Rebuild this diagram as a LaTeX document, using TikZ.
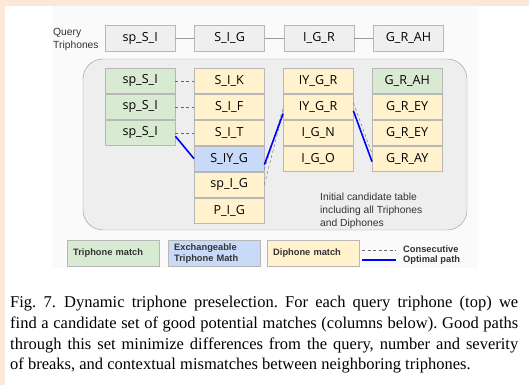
\documentclass[tikz,border=0pt]{standalone}
\usepackage{fontspec}
\setmainfont{Liberation Serif}
\newfontfamily\cellfont{Open Sans}
\newfontfamily\labelfont{Liberation Sans}
\usetikzlibrary{positioning}
\definecolor{peach}{HTML}{FBE8D9}
\definecolor{figgray}{HTML}{FAFAFA}
\definecolor{tablegray}{HTML}{EEEEEE}
\definecolor{querygray}{HTML}{EFEFEF}
\definecolor{cellline}{HTML}{B7B7B7}
\definecolor{trigreen}{HTML}{D9EAD3}
\definecolor{diyellow}{HTML}{FFF2CC}
\definecolor{exblue}{HTML}{C9DAF8}
\definecolor{pathblue}{HTML}{0000FF}
\tikzset{cell/.style={rectangle,draw=cellline,fill=diyellow,minimum width=70pt,minimum height=25.5pt,inner sep=0pt,font=\cellfont\fontsize{12.5}{14}\selectfont},
         tri cell/.style={cell,fill=trigreen},
         ex cell/.style={cell,fill=exblue},
         query/.style={cell,fill=querygray,minimum height=26pt},
         key box/.style={rectangle,draw=cellline,minimum width=92pt,minimum height=26pt,inner xsep=6pt,inner ysep=0pt,text width=80pt,align=left,font=\labelfont\bfseries\fontsize{9.3}{11}\selectfont,text=black!80},
         key text/.style={inner sep=0pt,font=\labelfont\bfseries\fontsize{9.3}{11}\selectfont,text=black!80},
         note/.style={inner sep=0pt,align=left,font=\labelfont\fontsize{10.3}{13}\selectfont,text=black!80},
         link/.style={draw=black!40,thin},
         consec/.style={draw=black!60,thin,dash pattern=on 3pt off 2.5pt},
         best path/.style={draw=pathblue,line width=1.6pt},
}
\begin{document}
\begin{tikzpicture}[x=1pt,y=-1pt,node distance=19pt]
\useasboundingbox (0,0) rectangle (529,385);
\fill[peach] (0,0) rectangle (529,385);
\fill[white] (5,6) rectangle (529,385);
\fill[figgray] (52,6) rectangle (478,268);

% query triphones
\node[note,anchor=north west] (qlabel) at (53,28) {Query\\Triphones};
\node[query,anchor=north west] (q1) at (105,25) {sp\_S\_I};
\node[query,right=of q1] (q2) {S\_I\_G};
\node[query,right=of q2] (q3) {I\_G\_R};
\node[query,right=of q3] (q4) {G\_R\_AH};
\draw[link] (q1) -- (q2);
\draw[link] (q2) -- (q3);
\draw[link] (q3) -- (q4);

% candidate table
\draw[draw=black!40,fill=tablegray,rounded corners=20pt] (83,59) rectangle (467,230);
\node[tri cell,anchor=north west] (a1) at (105,68) {sp\_S\_I};
\node[tri cell,below=0pt of a1] (a2) {sp\_S\_I};
\node[tri cell,below=0pt of a2] (a3) {sp\_S\_I};

\node[cell,anchor=north west] (b1) at (194,68) {S\_I\_K};
\node[cell,below=0pt of b1] (b2) {S\_I\_F};
\node[cell,below=0pt of b2] (b3) {S\_I\_T};
\node[ex cell,below=0pt of b3] (b4) {S\_IY\_G};
\node[cell,below=0pt of b4] (b5) {sp\_I\_G};
\node[cell,below=0pt of b5] (b6) {P\_I\_G};

\node[cell,anchor=north west] (c1) at (283,68) {IY\_G\_R};
\node[cell,below=0pt of c1] (c2) {IY\_G\_R};
\node[cell,below=0pt of c2] (c3) {I\_G\_N};
\node[cell,below=0pt of c3] (c4) {I\_G\_O};

\node[tri cell,anchor=north west] (d1) at (372,68) {G\_R\_AH};
\node[cell,below=0pt of d1] (d2) {G\_R\_EY};
\node[cell,below=0pt of d2] (d3) {G\_R\_EY};
\node[cell,below=0pt of d3] (d4) {G\_R\_AY};

\node[note,anchor=north west] (tablenote) at (320,193) {Initial candidate table\\including all Triphones\\and Diphones};

% consecutive and optimal links
\draw[consec] (a1) -- (b1);
\draw[consec] (a2) -- (b2);
\draw[consec] (a3) -- (b3);
\draw[consec] ([yshift=-11pt]b4.east) -- ([yshift=-2pt]c2.west);
\draw[consec] (b5.east) -- ([yshift=-5pt]c2.west);
\draw[consec] ([yshift=4pt]c2.east) -- ([yshift=5pt]d4.west);
\draw[best path] ([yshift=-3.5pt]a3.east) -- (b4.west);
\draw[best path] ([yshift=-6pt]b4.east) -- ([yshift=-7pt]c2.west);
\draw[best path] ([yshift=-4pt]c2.east) -- ([yshift=-3pt]d4.west);

% legend
\node[key box,fill=trigreen,anchor=north west] (k1) at (67,240) {Triphone match};
\node[key box,fill=exblue,anchor=north west] (k2) at (168,240) {Exchangeable\\Triphone Math};
\node[key box,fill=diyellow,anchor=north west] (k3) at (267,240) {Diphone match};
\coordinate (l1a) at (362,250);
\coordinate (l1b) at (396,250);
\coordinate (l2a) at (362,260);
\coordinate (l2b) at (396,260);
\draw[consec] (l1a) -- (l1b);
\draw[best path] (l2a) -- (l2b);
\node[key text,anchor=west] (k4) at (403,249) {Consecutive};
\node[key text,anchor=west] (k5) at (403,260) {Optimal path};

% caption
\node[anchor=north west,inner sep=0pt,text width=508pt,align=justify,font=\frenchspacing\fontsize{16.5}{20.7}\selectfont] (caption) at (10,296) {Fig.~7.\enspace Dynamic triphone preselection. For each query triphone (top) we\linebreak find a candidate set of good potential matches (columns below). Good paths\linebreak through this set minimize differences from the query, number and severity\linebreak of breaks, and contextual mismatches between neighboring triphones.};
\end{tikzpicture}
\end{document}
